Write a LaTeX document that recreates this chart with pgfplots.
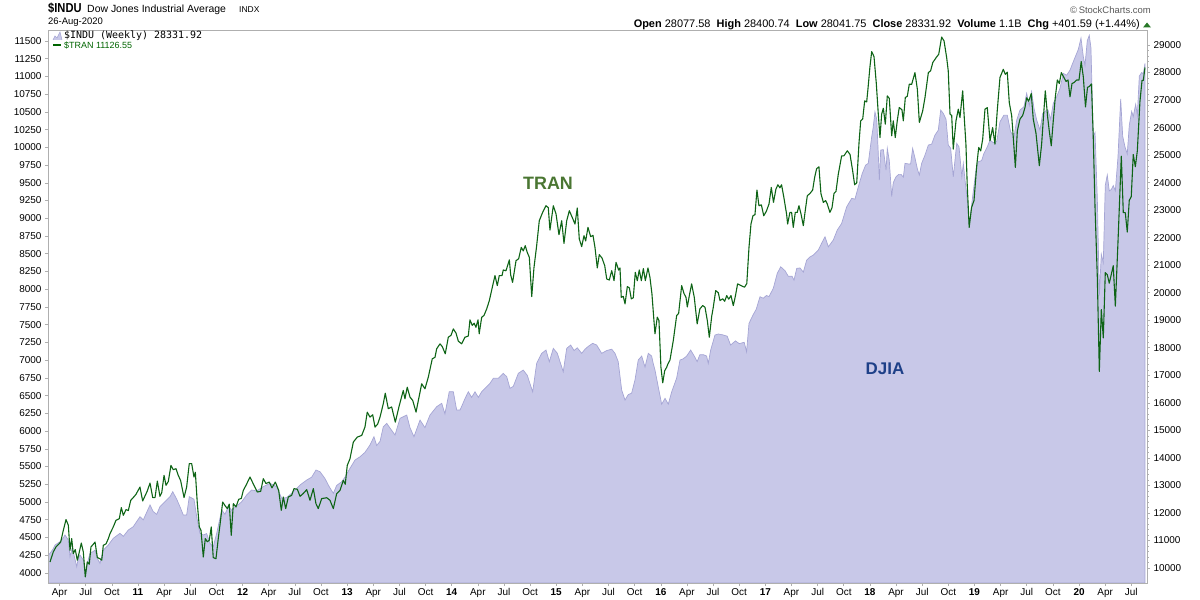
\documentclass[border=0pt]{standalone}
\usepackage{fontspec}
\setmainfont{Liberation Sans}
\newfontfamily\monofont{DejaVu Sans Mono}
\usepackage{pgfplots}
\pgfplotsset{compat=1.18}
\usepackage{pgfplotstable}

\definecolor{areafill}{RGB}{200,200,232}
\definecolor{areaedge}{RGB}{165,165,212}
\definecolor{trangreen}{RGB}{14,100,22}
\definecolor{axgray}{RGB}{175,175,175}
\definecolor{tranlabel}{RGB}{74,118,50}
\definecolor{djialabel}{RGB}{30,64,136}
\definecolor{legendgreen}{RGB}{0,100,0}
\definecolor{upgreen}{RGB}{40,120,40}

% years since 2010, value
\pgfplotstableread{
t v
0.198 10450
0.217 10534
0.248 10700
0.265 10835
0.312 10955
0.341 11080
0.360 11199
0.392 11017
0.408 10410
0.427 10700
0.439 10592
0.472 10047
0.487 10350
0.503 10470
0.535 10290
0.554 9800
0.573 10170
0.599 10534
0.630 10600
0.647 10654
0.669 10350
0.694 10170
0.726 10654
0.774 10835
0.821 11078
0.885 11260
0.917 11150
0.965 11380
1.012 11500
1.076 11863
1.108 11750
1.172 12288
1.203 12050
1.236 11950
1.267 12227
1.315 12408
1.363 12590
1.389 12771
1.427 12500
1.458 12227
1.490 11925
1.522 11925
1.547 12590
1.592 12500
1.618 11863
1.649 11260
1.681 11199
1.713 11250
1.745 10897
1.776 10774
1.809 11260
1.857 12107
1.888 11950
1.920 12227
1.952 12100
1.984 12227
2.015 12300
2.048 12408
2.095 12651
2.143 12833
2.191 12800
2.254 12953
2.318 13075
2.382 12953
2.430 12531
2.478 12560
2.541 12771
2.605 13015
2.669 13196
2.716 13300
2.757 13559
2.796 13497
2.843 13250
2.884 12953
2.923 12713
2.955 13000
3.003 13134
3.034 13300
3.082 13621
3.130 13922
3.178 14042
3.225 14200
3.273 14467
3.311 14769
3.337 14450
3.369 14600
3.400 15132
3.433 15255
3.480 15000
3.512 14830
3.560 15437
3.624 15557
3.655 15100
3.693 14769
3.751 15375
3.798 15100
3.846 15557
3.910 15859
3.958 15982
3.989 15600
4.030 16403
4.069 16403
4.101 15739
4.133 15739
4.152 15900
4.180 16150
4.212 16403
4.244 16200
4.276 16400
4.308 16200
4.340 16403
4.372 16527
4.419 16709
4.451 16890
4.499 16890
4.546 17072
4.579 16950
4.610 16527
4.642 16600
4.690 17072
4.737 17191
4.775 17000
4.827 16403
4.865 17435
4.913 17798
4.954 17918
4.986 17493
5.024 17980
5.062 17800
5.119 17130
5.152 17980
5.190 18100
5.222 17900
5.253 18000
5.295 17798
5.327 17950
5.357 18050
5.400 18161
5.438 18100
5.486 17798
5.534 17900
5.582 17950
5.613 17798
5.644 17493
5.677 16465
5.709 16102
5.740 16300
5.772 16350
5.804 16828
5.835 17554
5.868 17700
5.900 17300
5.931 17798
5.963 17700
5.978 17435
5.995 17191
6.026 16587
6.059 15950
6.091 16163
6.122 15950
6.155 16403
6.202 16900
6.234 17554
6.265 17600
6.298 17700
6.336 17918
6.370 17700
6.398 17500
6.424 17750
6.456 17750
6.488 17700
6.504 17435
6.527 17918
6.568 18462
6.600 18500
6.642 18470
6.685 18420
6.717 18100
6.764 18250
6.800 18150
6.847 18200
6.870 17858
6.893 18887
6.931 19189
6.962 19400
6.998 19854
7.030 19800
7.059 19900
7.084 19860
7.125 20159
7.163 20704
7.196 20943
7.237 20800
7.268 20600
7.304 20600
7.323 20460
7.349 20885
7.380 20900
7.412 20750
7.444 21187
7.476 21300
7.507 21368
7.555 21550
7.587 21800
7.619 22032
7.651 21670
7.698 21913
7.736 22276
7.778 22519
7.826 23122
7.874 23428
7.905 23400
7.937 23846
7.975 24335
8.007 24637
8.032 24700
8.065 25665
8.080 26028
8.096 26572
8.113 26300
8.125 25300
8.138 24093
8.151 25182
8.176 25200
8.202 24456
8.214 25243
8.233 24800
8.256 23491
8.271 24000
8.297 24212
8.323 24300
8.345 24300
8.367 24200
8.383 24699
8.414 24680
8.437 24680
8.456 25243
8.478 24900
8.501 24500
8.520 24274
8.542 24699
8.574 25000
8.606 25364
8.638 25400
8.669 25727
8.701 25908
8.724 26635
8.749 26514
8.775 26300
8.796 25364
8.819 25250
8.844 24212
8.877 25425
8.899 25300
8.926 24212
8.940 24699
8.959 24000
8.977 23400
8.996 22445
9.029 23491
9.061 24456
9.083 24758
9.115 24800
9.137 25062
9.169 25300
9.195 25545
9.226 25450
9.259 25500
9.290 26209
9.328 26453
9.360 26453
9.392 25848
9.424 25667
9.450 26272
9.481 26635
9.519 26755
9.545 27241
9.570 26800
9.592 27300
9.615 26700
9.641 26272
9.672 25908
9.698 26514
9.723 26600
9.749 26635
9.774 26300
9.799 26877
9.832 27118
9.863 27423
9.895 27968
9.927 27900
9.959 28088
9.990 28389
10.016 28632
10.038 28836
10.064 29250
10.086 28578
10.102 28258
10.124 29155
10.143 29348
10.159 28898
10.181 25690
10.198 25817
10.220 23400
10.239 19900
10.258 21400
10.277 21100
10.296 23900
10.315 24278
10.334 23700
10.353 23750
10.372 23893
10.392 23700
10.417 24920
10.443 27038
10.462 25690
10.484 25300
10.506 25049
10.525 26077
10.548 26587
10.563 26400
10.586 26845
10.602 26450
10.621 27873
10.644 28000
10.659 27950
10.675 28331
}\djia

\pgfplotstableread{
t v
0.217 4154
0.248 4296
0.274 4366
0.319 4436
0.344 4601
0.370 4752
0.392 4672
0.408 4320
0.424 4484
0.439 4273
0.458 4329
0.478 4179
0.497 4296
0.516 4422
0.535 4296
0.554 3944
0.573 4155
0.592 4122
0.608 4366
0.630 4404
0.647 4436
0.669 4217
0.694 4200
0.711 4179
0.726 4390
0.752 4410
0.774 4484
0.790 4555
0.821 4648
0.847 4742
0.879 4766
0.898 4921
0.917 4812
0.943 4893
0.965 4880
0.988 5024
1.012 5062
1.038 5108
1.076 5211
1.102 5014
1.127 5094
1.146 5155
1.172 5267
1.198 5062
1.220 5062
1.242 5295
1.267 5080
1.284 5130
1.306 5376
1.325 5235
1.347 5290
1.372 5516
1.394 5456
1.420 5470
1.442 5376
1.465 5300
1.497 5062
1.522 5211
1.547 5541
1.570 5541
1.592 5352
1.605 5420
1.624 4977
1.643 4648
1.659 4600
1.681 4225
1.700 4484
1.719 4440
1.738 4460
1.757 4648
1.776 4217
1.802 4200
1.824 4484
1.840 4672
1.866 5000
1.888 4950
1.910 4907
1.929 4970
1.948 4531
1.968 4977
1.993 4930
2.019 5038
2.044 5050
2.063 5164
2.089 5235
2.127 5352
2.165 5235
2.197 5141
2.229 5150
2.254 5329
2.280 5260
2.311 5281
2.337 5200
2.369 5281
2.401 5164
2.426 4883
2.445 5070
2.468 4907
2.493 5070
2.525 5094
2.547 5188
2.579 5180
2.605 5080
2.636 5120
2.669 5174
2.700 5024
2.732 5188
2.757 4977
2.779 4907
2.812 5048
2.860 5060
2.891 5024
2.923 4907
2.955 5118
2.987 5164
3.018 5305
3.037 5250
3.056 5516
3.082 5610
3.114 5845
3.152 5915
3.194 5939
3.225 6056
3.247 6267
3.273 6197
3.299 6230
3.321 6056
3.347 6100
3.369 6197
3.400 6385
3.419 6534
3.448 6315
3.480 6340
3.515 6126
3.553 6361
3.591 6572
3.607 6455
3.629 6619
3.655 6480
3.681 6432
3.713 6267
3.735 6432
3.767 6667
3.798 6596
3.830 6760
3.868 7019
3.894 7040
3.910 7160
3.942 7230
3.964 7190
3.992 7089
4.021 7323
4.047 7350
4.069 7441
4.095 7380
4.117 7267
4.149 7230
4.180 7323
4.212 7340
4.228 7568
4.250 7490
4.268 7520
4.285 7464
4.305 7568
4.316 7371
4.340 7605
4.362 7630
4.388 7723
4.413 7840
4.445 8051
4.467 8192
4.489 8051
4.508 8192
4.534 8192
4.546 8271
4.572 8260
4.604 8413
4.617 8200
4.635 8097
4.668 8403
4.693 8430
4.718 8590
4.737 8540
4.756 8614
4.775 8520
4.795 8449
4.818 7896
4.839 8300
4.865 8614
4.890 8966
4.922 9083
4.954 9177
4.976 9150
4.992 8835
5.024 9177
5.050 9060
5.078 8769
5.104 8966
5.126 8646
5.152 8966
5.177 9107
5.202 9022
5.231 8919
5.253 9145
5.272 8709
5.295 8600
5.317 8755
5.333 8680
5.355 8872
5.381 8741
5.403 8760
5.422 8590
5.444 8300
5.463 8488
5.489 8440
5.515 8333
5.534 8145
5.559 8130
5.582 8262
5.604 8121
5.623 8379
5.648 8270
5.661 8300
5.673 7885
5.692 7900
5.709 7793
5.731 8037
5.750 8020
5.769 7864
5.788 7880
5.807 8238
5.826 8120
5.845 8271
5.865 8120
5.884 8290
5.903 8121
5.928 8300
5.947 8167
5.966 7935
5.985 7560
5.995 7371
6.017 7605
6.033 7560
6.052 6900
6.069 6680
6.088 6850
6.107 6901
6.119 6948
6.138 7000
6.170 7276
6.202 7628
6.221 7660
6.250 8051
6.272 7940
6.291 7886
6.304 7750
6.322 7900
6.345 8075
6.370 7890
6.398 7511
6.424 7723
6.451 7770
6.473 7745
6.495 7558
6.514 7323
6.537 7620
6.552 7746
6.575 7981
6.600 7950
6.616 7840
6.642 7865
6.661 7830
6.680 7910
6.699 7860
6.721 7910
6.743 7769
6.764 7910
6.784 8075
6.819 8050
6.850 8028
6.872 8080
6.893 8590
6.912 8919
6.931 9036
6.950 9050
6.969 9398
6.988 9177
7.011 9190
7.034 9036
7.059 9100
7.084 9201
7.106 9435
7.127 9224
7.150 9410
7.169 9473
7.188 9430
7.204 9473
7.226 9294
7.252 9060
7.262 8919
7.284 9083
7.300 9083
7.316 8872
7.335 9083
7.354 9083
7.370 9177
7.390 9060
7.412 8896
7.428 9083
7.450 9318
7.475 9350
7.501 9398
7.520 9576
7.539 9700
7.561 9726
7.580 9350
7.603 9224
7.625 9250
7.641 9200
7.666 9083
7.686 9150
7.705 9351
7.724 9380
7.746 9623
7.778 9881
7.800 9881
7.832 9952
7.858 9900
7.883 9670
7.902 9473
7.922 9500
7.944 10069
7.960 10374
7.979 10400
7.998 10656
8.017 10640
8.029 10820
8.049 11148
8.065 11350
8.087 11280
8.109 10900
8.128 10468
8.144 10139
8.160 10468
8.176 10552
8.195 10327
8.214 10726
8.233 10690
8.256 10163
8.271 10374
8.290 10139
8.309 10374
8.328 10562
8.354 10530
8.367 10374
8.386 10703
8.405 10720
8.424 10890
8.447 10890
8.478 11054
8.501 10820
8.520 10351
8.552 10515
8.574 10703
8.606 11054
8.628 11080
8.648 11195
8.680 11265
8.705 11312
8.733 11556
8.756 11500
8.781 11265
8.796 11080
8.813 10468
8.829 10450
8.844 9975
8.870 10374
8.892 10539
8.908 10420
8.934 10797
8.949 10420
8.965 10045
8.977 9483
8.996 8872
9.019 9153
9.042 9250
9.068 9741
9.087 9999
9.106 9950
9.125 10116
9.147 10539
9.169 10560
9.195 10093
9.220 10280
9.242 10045
9.264 10515
9.290 10985
9.322 11101
9.341 11030
9.360 11060
9.379 10632
9.402 10445
9.424 9999
9.437 9717
9.456 10233
9.481 10398
9.507 10450
9.529 10562
9.545 10700
9.564 10650
9.589 10758
9.608 10398
9.634 10200
9.666 9741
9.688 10045
9.704 10398
9.723 10797
9.746 10421
9.761 10230
9.780 10022
9.799 10374
9.818 10700
9.838 10950
9.857 10900
9.876 11054
9.901 10985
9.921 10930
9.940 10950
9.959 10712
9.978 10900
9.997 10914
10.023 10950
10.045 10950
10.066 11210
10.086 10995
10.107 10570
10.126 10846
10.145 10860
10.164 10895
10.181 10147
10.198 9153
10.220 8163
10.239 6840
10.258 7713
10.277 7313
10.296 8234
10.315 8206
10.334 8085
10.353 8206
10.372 8332
10.392 7761
10.417 8656
10.449 9876
10.468 9079
10.487 9079
10.506 8805
10.525 9253
10.544 9304
10.563 9899
10.583 9727
10.602 9952
10.627 10646
10.647 10944
10.659 10944
10.675 11126
}\tran

\pgfplotsset{
  chartbase/.style={
    at={(48bp,17bp)}, anchor=south west, scale only axis,
    width=1099bp, height=553bp,
    xmin=0.1393, xmax=10.65,
    x filter/.expression={x*1.001339-0.058719},
    axis line style={draw=axgray, line width=0.8bp},
    tick align=outside,
    major tick length=3bp, minor tick length=1.5bp,
    tick style={draw=axgray, line width=0.6bp},
    ticklabel style={font=\fontsize{10}{12}\selectfont},
    scaled y ticks=false, scaled x ticks=false,
    /pgf/number format/1000 sep={},
    /pgf/number format/fixed,
    /pgf/number format/assume math mode=true,
  }
}

\begin{document}
\begin{tikzpicture}
\useasboundingbox (0,0) rectangle (1200bp,600bp);

% DJIA area, right axis
\begin{axis}[chartbase,
  ymin=9455, ymax=29545,
  ytick pos=right, xtick pos=bottom,
  ytick={10000,11000,...,29000},
  minor y tick num=4,
  xtick={0.25,0.5,...,10.5},
  xticklabels={Apr,Jul,Oct,\textbf{11},Apr,Jul,Oct,\textbf{12},Apr,Jul,Oct,\textbf{13},Apr,Jul,Oct,\textbf{14},Apr,Jul,Oct,\textbf{15},Apr,Jul,Oct,\textbf{16},Apr,Jul,Oct,\textbf{17},Apr,Jul,Oct,\textbf{18},Apr,Jul,Oct,\textbf{19},Apr,Jul,Oct,\textbf{20},Apr,Jul},
  xticklabel style={yshift=1bp},
]
\addplot[fill=areafill, draw=areaedge, line width=0.7bp] table[x=t, y=v] {\djia} \closedcycle;
\end{axis}

% TRAN line, left axis
\begin{axis}[chartbase,
  ymin=3858, ymax=11655,
  hide x axis,
  axis y line*=left,
  ytick={4000,4250,...,11500},
]
\addplot[draw=trangreen, line width=1.1bp, line join=round] table[x=t, y=v] {\tran};
\end{axis}

% in-chart labels
\node[font=\bfseries\fontsize{18}{20}\selectfont, text=tranlabel] at (548bp,417bp) {TRAN};
\node[font=\bfseries\fontsize{17}{19}\selectfont, text=djialabel] at (885bp,231bp) {DJIA};

% legend
\fill[areafill] (53bp,560bp) -- (55bp,564bp) -- (57bp,562bp) -- (60bp,568bp) -- (62bp,560bp) -- cycle;
\draw[areaedge, line width=0.6bp] (53bp,560bp) -- (55bp,564bp) -- (57bp,562bp) -- (60bp,568bp) -- (62bp,560bp);
\node[anchor=base west, inner sep=0pt] at (64bp,561bp) {\monofont\fontsize{10}{12}\selectfont \$INDU (Weekly) 28331.92};
\draw[legendgreen, line width=2bp] (53bp,554.5bp) -- (61bp,554.5bp);
\node[anchor=base west, inner sep=0pt, text=legendgreen] at (64bp,551.5bp) {\fontsize{9}{11}\selectfont \$TRAN 11126.55};

% header
\node[anchor=base west, inner sep=0pt] at (48bp,587bp) {\scalebox{0.86}[1]{\bfseries\fontsize{13}{14}\selectfont \$INDU}};
\node[anchor=base west, inner sep=0pt] at (87bp,587bp) {\fontsize{10.5}{12}\selectfont Dow Jones Industrial Average};
\node[anchor=base west, inner sep=0pt] at (239bp,587bp) {\fontsize{8.5}{10}\selectfont INDX};
\node[anchor=base west, inner sep=0pt] at (48bp,575bp) {\fontsize{9.5}{11}\selectfont 26-Aug-2020};
\node[anchor=base east, inner sep=0pt, text=black!65] at (1151bp,586bp) {\fontsize{9.5}{11}\selectfont \textcopyright\,StockCharts.com};
\node[anchor=base east, inner sep=0pt] at (1140bp,572bp) {\fontsize{11}{13}\selectfont \textbf{Open} 28077.58\ \ \textbf{High} 28400.74\ \ \textbf{Low} 28041.75\ \ \textbf{Close} 28331.92\ \ \textbf{Volume} 1.1B\ \ \textbf{Chg} +401.59 (+1.44\%)};
\fill[upgreen] (1143bp,572.5bp) -- (1151bp,572.5bp) -- (1147bp,577.5bp) -- cycle;
\end{tikzpicture}
\end{document}
